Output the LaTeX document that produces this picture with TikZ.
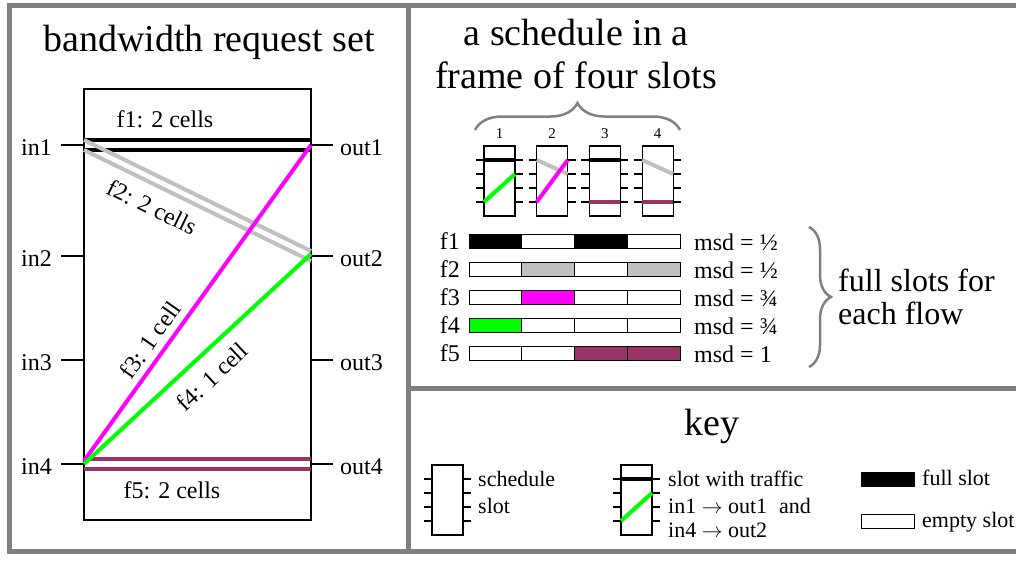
\documentclass[tikz,border=0pt]{standalone}
\usepackage{fontspec}
\setmainfont{Liberation Serif}
\usetikzlibrary{decorations.pathreplacing}
\definecolor{maroonc}{RGB}{153,51,102}
\definecolor{silverc}{RGB}{192,192,192}
\definecolor{framec}{RGB}{128,128,128}
\definecolor{magentac}{RGB}{255,0,255}
\definecolor{greenc}{RGB}{0,255,0}
\begin{document}
\begin{tikzpicture}[x=1pt,y=-1pt,
  big/.style={font=\fontsize{38}{43}\selectfont, inner sep=0pt},
  lab/.style={font=\fontsize{24}{28}\selectfont, inner sep=0pt},
  mid/.style={font=\fontsize{32}{36}\selectfont, inner sep=0pt},
  keylab/.style={font=\fontsize{22}{26}\selectfont, inner sep=0pt},
  numlab/.style={font=\fontsize{15}{18}\selectfont, inner sep=0pt},
  thinline/.style={line width=1.2pt, black},
  flow/.style={line width=4pt},
  framepen/.style={line width=5pt, framec},
  bracepen/.style={line width=2.5pt, framec, decorate},
  cell/.style={line width=1pt, draw=black},
  slotpic/.pic={
    \draw[thinline] (0,0) rectangle (31,70);
    \foreach \t [count=\k] in {14,28,42,56} {
      \draw[thinline] (-8,\t) -- (0,\t) (31,\t) -- (39,\t);
      \coordinate (-i\k) at (0,\t);
      \coordinate (-o\k) at (31,\t);
    }
  }]
\useasboundingbox (0,0) rectangle (1016,560);

% frame and dividers
\draw[framepen] (1016,5) -- (9,5) -- (9,551) -- (1016,551);
\draw[framepen] (408.5,5) -- (408.5,551);
\draw[framepen] (408.5,388) -- (1016,388);

% ---------------- left panel ----------------
\node[big, anchor=base] (t1) at (209,51.5) {bandwidth request set};
\draw[thinline] (84,89) rectangle (311,520);
\foreach \n/\y in {1/145,2/256,3/360,4/464} {
  \coordinate (in\n) at (84,\y);
  \coordinate (out\n) at (311,\y);
  \draw[thinline] (in\n) -- ++(-23,0);
  \draw[thinline] (out\n) -- ++(22,0);
  \node[lab, anchor=base east] (lin\n) at (52,\y+10.5) {in\n};
  \node[lab, anchor=base west] (lout\n) at (340,\y+10.5) {out\n};
}
% f1
\draw[flow, black] ([yshift=5pt]in1) -- ([yshift=5pt]out1);
\draw[flow, black] ([yshift=-5pt]in1) -- ([yshift=-5pt]out1);
% f2
\draw[flow, silverc] ([yshift=5pt]in1) -- ([yshift=5pt]out2);
\draw[flow, silverc] ([yshift=-5pt]in1) -- ([yshift=-5pt]out2);
% f5
\draw[flow, maroonc] ([yshift=5pt]in4) -- ([yshift=5pt]out4);
\draw[flow, maroonc] ([yshift=-5pt]in4) -- ([yshift=-5pt]out4);
% f3, f4
\draw[flow, magentac] ([yshift=3pt]in4) -- (out1);
\draw[flow, greenc] (in4) -- ([yshift=2pt]out2);

\node[lab, anchor=base] (lf1) at (165,127.5) {f1: 2 cells};
\node[lab, anchor=base] (lf5) at (172,498) {f5: 2 cells};
\node[lab, rotate=-26] (lf2) at (152,207) {f2: 2 cells};
\node[lab, rotate=55] (lf3) at (150,340) {f3: 1 cell};
\node[lab, rotate=43] (lf4) at (212,377) {f4: 1 cell};

% ---------------- top right panel ----------------
\node[big, anchor=base] (t2a) at (576,45) {a schedule in a};
\node[big, anchor=base] (t2b) at (576,88) {frame of four slots};
\draw[bracepen, decoration={brace, amplitude=27pt}] (475,130) -- (680,130);

\foreach \k in {1,2,3,4} {
  \pic (s\k) at ({484+52.7*(\k-1)},146) {slotpic};
  \node[numlab, anchor=base] (n\k) at ({499.5+52.7*(\k-1)},138) {\k};
}
\draw[flow, black] (s1-i1) -- (s1-o1);
\draw[flow, greenc] (s1-i4) -- (s1-o2);
\draw[flow, silverc] (s2-i1) -- (s2-o2);
\draw[flow, magentac] (s2-i4) -- (s2-o1);
\draw[flow, black] (s3-i1) -- (s3-o1);
\draw[flow, maroonc] (s3-i4) -- (s3-o4);
\draw[flow, silverc] (s4-i1) -- (s4-o2);
\draw[flow, maroonc] (s4-i4) -- (s4-o4);

\foreach \r/\a/\b/\c/\d [count=\i from 0] in
  {f1/black/white/black/white, f2/white/silverc/white/silverc,
   f3/white/magentac/white/white, f4/greenc/white/white/white,
   f5/white/white/maroonc/maroonc} {
  \node[lab, anchor=base east] (row\r) at (460,{249+28*\i}) {\r};
  \foreach \col [count=\j from 0] in {\a,\b,\c,\d}
    \draw[cell, fill=\col] ({469+52.75*\j},{234+28*\i}) rectangle ++(52.75,14);
}
\node[lab, anchor=base west] (m1) at (694,250) {msd = ½};
\node[lab, anchor=base west] (m2) at (694,278) {msd = ½};
\node[lab, anchor=base west] (m3) at (694,306) {msd = ¾};
\node[lab, anchor=base west] (m4) at (694,334) {msd = ¾};
\node[lab, anchor=base west] (m5) at (694,362) {msd = 1};
\draw[bracepen, decoration={brace, amplitude=22pt}] (809,227) -- (809,367);
\node[mid, anchor=base west] (fs1) at (838,291) {full slots for};
\node[mid, anchor=base west] (fs2) at (838,324) {each flow};

% ---------------- key panel ----------------
\node[big, anchor=base] (t3) at (712,435) {key};
\pic (k1) at (432,465) {slotpic};
\node[keylab, anchor=base west] (kl1) at (478,486) {schedule};
\node[keylab, anchor=base west] (kl2) at (478,513) {slot};
\pic (k2) at (621,465) {slotpic};
\draw[flow, black] (k2-i1) -- (k2-o1);
\draw[flow, greenc] (k2-i4) -- (k2-o2);
\node[keylab, anchor=base west] (kl3) at (668,486) {slot with traffic};
\node[keylab, anchor=base west] (kl4) at (668,513) {in1 $\rightarrow$ out1\hspace{12pt}and};
\node[keylab, anchor=base west] (kl5) at (668,537) {in4 $\rightarrow$ out2};
\draw[cell, fill=black] (861,472) rectangle (914,486);
\node[keylab, anchor=base west] (kl6) at (922,485) {full slot};
\draw[cell, fill=white] (861,514) rectangle (914,528);
\node[keylab, anchor=base west] (kl7) at (922,527) {empty slot};
\end{tikzpicture}
\end{document}
